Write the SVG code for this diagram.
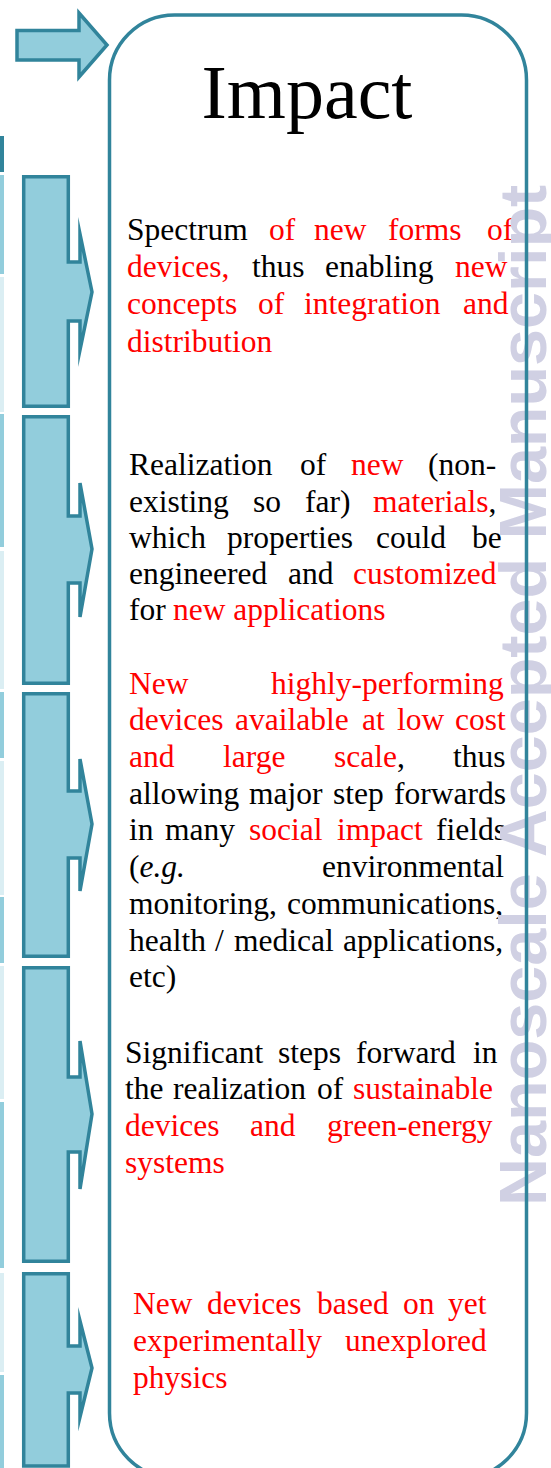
<svg xmlns="http://www.w3.org/2000/svg" width="551" height="1468" viewBox="0 0 551 1468">
<style>
.shape{fill:#92cddc;stroke:#31849b;stroke-width:3.5;stroke-linejoin:miter;stroke-miterlimit:10}
.r{fill:#ff0000}
.lb{fill:#92cddc}.lv{fill:#dbeef3}
</style>
<rect width="551" height="1468" fill="#ffffff"/>
<g id="left-strip">
<rect x="0" y="136" width="4" height="36" fill="#31849b"/>
<rect class="lb" x="0" y="175" width="4" height="99"/>
<rect class="lv" x="0" y="277" width="4" height="135"/>
<rect class="lb" x="0" y="414" width="4" height="133"/>
<rect class="lv" x="0" y="551" width="4" height="138"/>
<rect class="lb" x="0" y="692" width="4" height="66"/>
<rect class="lv" x="0" y="761" width="4" height="134"/>
<rect class="lb" x="0" y="897" width="4" height="66"/>
<rect class="lv" x="0" y="966" width="4" height="133"/>
<rect class="lb" x="0" y="1102" width="4" height="166"/>
<rect class="lv" x="0" y="1273" width="4" height="99"/>
<rect class="lb" x="0" y="1375" width="4" height="93"/>
</g>
<g id="connectors">
<path class="shape" stroke-width="4.5" d="M17,30.5 H79 V13 L107,45 L79,77 V60 H17 Z"/>
</g>
<g id="bar1"><path class="shape" d="M23.7,176.7 H68.3 V262 H80 V234 L92,292 L80,350 V321 H68.3 V406.3 H23.7 Z"/></g>
<g id="bar2"><path class="shape" d="M23.7,416.7 H68.3 V516 H80 V483 L92,549 L80,617 V583 H68.3 V683.3 H23.7 Z"/></g>
<g id="bar3"><path class="shape" d="M23.7,693.7 H68.3 V791 H80 V759 L92,824 L80,891 V858 H68.3 V956.3 H23.7 Z"/></g>
<g id="bar4"><path class="shape" d="M23.7,967.7 H68.3 V1077 H80 V1041 L92,1114 L80,1189 V1152 H68.3 V1261.3 H23.7 Z"/></g>
<g id="bar5"><path class="shape" d="M23.7,1273.7 H68.3 V1346 H80 V1321 L92,1368 L80,1417 V1393 H68.3 V1466 H23.7 Z"/></g>
<g id="impact-box" font-family="Liberation Serif, Times New Roman, serif">
<text x="307" y="118" font-size="76" text-anchor="middle" fill="#000">Impact</text>
<g id="block1" font-size="31.5" fill="#000">
<text y="240"><tspan x="127">Spectrum</tspan><tspan class="r" x="269">of</tspan><tspan class="r" x="314">new</tspan><tspan class="r" x="388">forms</tspan><tspan class="r" x="487">of</tspan></text>
<text y="277"><tspan class="r" x="127">devices,</tspan><tspan x="252">thus</tspan><tspan x="325">enabling</tspan><tspan class="r" x="455">new</tspan></text>
<text class="r" y="314"><tspan x="127">concepts</tspan><tspan x="258">of</tspan><tspan x="304">integration</tspan><tspan x="463">and</tspan></text>
<text class="r" y="352"><tspan x="127">distribution</tspan></text>
</g>
<g id="block2" font-size="31.5" fill="#000">
<text y="475"><tspan x="129">Realization</tspan><tspan x="300">of</tspan><tspan class="r" x="351">new</tspan><tspan x="428">(non-</tspan></text>
<text y="512"><tspan x="129">existing</tspan><tspan x="253">so</tspan><tspan x="305">far)</tspan><tspan class="r" x="373">materials</tspan><tspan>,</tspan></text>
<text y="548"><tspan x="129">which</tspan><tspan x="227">properties</tspan><tspan x="376">could</tspan><tspan x="472">be</tspan></text>
<text y="584"><tspan x="129">engineered</tspan><tspan x="288">and</tspan><tspan class="r" x="353">customized</tspan></text>
<text y="620"><tspan x="129">for</tspan><tspan class="r" x="173">new applications</tspan></text>
</g>
<g id="block3" font-size="31.5" fill="#000">
<text class="r" y="694"><tspan x="129">New</tspan><tspan x="271">highly-performing</tspan></text>
<text class="r" y="730"><tspan x="129">devices</tspan><tspan x="235">available</tspan><tspan x="362">at</tspan><tspan x="397">low</tspan><tspan x="455">cost</tspan></text>
<text y="767"><tspan class="r" x="129">and</tspan><tspan class="r" x="223">large</tspan><tspan class="r" x="334">scale</tspan><tspan>,</tspan><tspan x="453">thus</tspan></text>
<text y="804"><tspan x="129">allowing</tspan><tspan x="249">major</tspan><tspan x="333">step</tspan><tspan x="394">forwards</tspan></text>
<text y="840"><tspan x="129">in</tspan><tspan x="165">many</tspan><tspan class="r" x="249">social</tspan><tspan class="r" x="337">impact</tspan><tspan x="436">fields</tspan></text>
<text y="877"><tspan x="129">(</tspan><tspan font-style="italic">e.g.</tspan><tspan x="322">environmental</tspan></text>
<text y="914"><tspan x="129">monitoring,</tspan><tspan x="287">communications,</tspan></text>
<text y="951"><tspan x="129">health</tspan><tspan x="215">/</tspan><tspan x="234">medical</tspan><tspan x="343">applications,</tspan></text>
<text y="987"><tspan x="129">etc)</tspan></text>
</g>
<g id="block4" font-size="31.5" fill="#000">
<text y="1063"><tspan x="125">Significant</tspan><tspan x="278">steps</tspan><tspan x="356">forward</tspan><tspan x="473">in</tspan></text>
<text y="1099"><tspan x="125">the</tspan><tspan x="173">realization</tspan><tspan x="317">of</tspan><tspan class="r" x="353">sustainable</tspan></text>
<text class="r" y="1136"><tspan x="125">devices</tspan><tspan x="250">and</tspan><tspan x="327">green-energy</tspan></text>
<text class="r" y="1173"><tspan x="125">systems</tspan></text>
</g>
<g id="block5" font-size="31.5" fill="#ff0000">
<text y="1314"><tspan x="133">New</tspan><tspan x="207">devices</tspan><tspan x="317">based</tspan><tspan x="403">on</tspan><tspan x="448">yet</tspan></text>
<text y="1351"><tspan x="133">experimentally</tspan><tspan x="345">unexplored</tspan></text>
<text y="1388"><tspan x="133">physics</tspan></text>
</g>
</g>
<g id="watermark">
<text x="546" y="1206" transform="rotate(-90 546 1206)" font-family="Liberation Sans, Arial, sans-serif" font-weight="bold" font-size="66.5" fill="#d0d0e3">Nanoscale Accepted Manuscript</text>
</g>
<g id="box-outline">
<rect x="109.5" y="15" width="417" height="1463" rx="65" ry="65" fill="none" stroke="#31849b" stroke-width="3.5"/>
</g>
</svg>
